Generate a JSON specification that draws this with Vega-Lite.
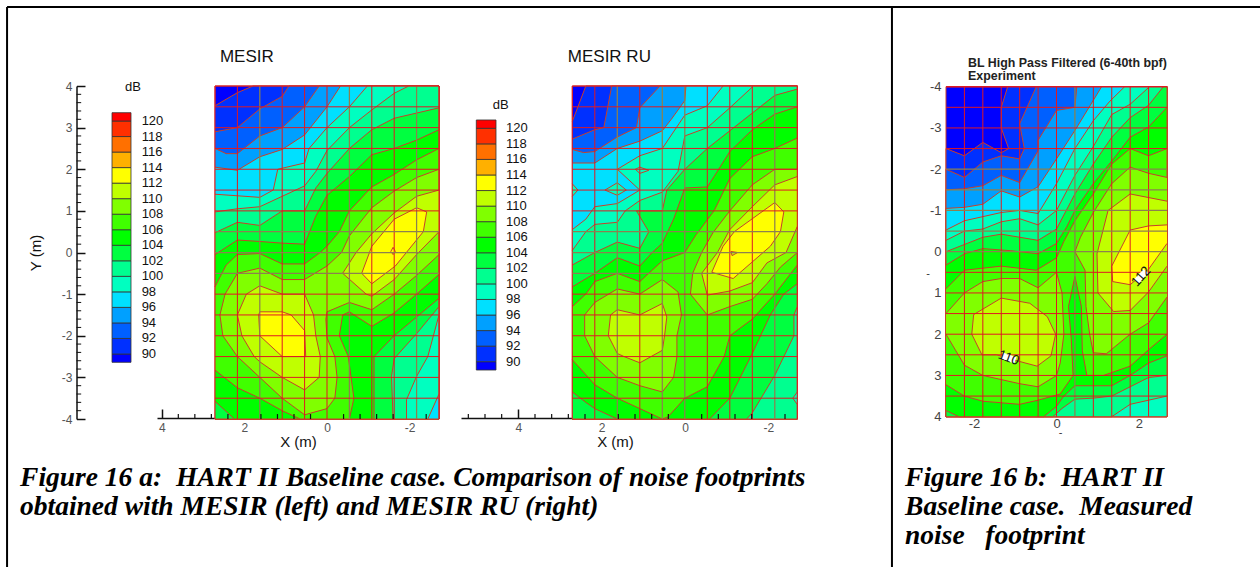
{"$schema":"https://vega.github.io/schema/vega-lite/v6.json","width":1260,"height":567,"padding":0,"autosize":{"type":"fit","contains":"padding"},"background":"white","config":{"view":{"stroke":null},"text":{"font":"Liberation Sans"},"axis":{"labelFont":"Liberation Sans","titleFont":"Liberation Sans","grid":false}},
"datasets":{
"a":[
{"p":"b","l":"base","i":0,"j":0},{"p":"b","l":"base","i":10,"j":0},{"p":"b","l":"base","i":10,"j":16},{"p":"b","l":"base","i":0,"j":16},{"p":"b","l":"base","i":0,"j":0},
{"p":"90","l":"90","i":0,"j":0.95},{"p":"90","l":"90","i":1,"j":0.32},{"p":"90","l":"90","i":1.7,"j":0},{"p":"90","l":"90","i":10,"j":0},{"p":"90","l":"90","i":10,"j":16},{"p":"90","l":"90","i":0,"j":16},
{"p":"92","l":"92","i":0,"j":2.2},{"p":"92","l":"92","i":1,"j":2},{"p":"92","l":"92","i":2,"j":1.1},{"p":"92","l":"92","i":3,"j":0.5},{"p":"92","l":"92","i":3.3,"j":0},{"p":"92","l":"92","i":10,"j":0},{"p":"92","l":"92","i":10,"j":16},{"p":"92","l":"92","i":0,"j":16},
{"p":"94","l":"94","i":0,"j":3},{"p":"94","l":"94","i":0.5,"j":3.25},{"p":"94","l":"94","i":1,"j":3.25},{"p":"94","l":"94","i":2,"j":2.4},{"p":"94","l":"94","i":3,"j":2},{"p":"94","l":"94","i":4,"j":1},{"p":"94","l":"94","i":4.65,"j":0},{"p":"94","l":"94","i":10,"j":0},{"p":"94","l":"94","i":10,"j":16},{"p":"94","l":"94","i":0,"j":16},
{"p":"96","l":"96","i":0,"j":3.9},{"p":"96","l":"96","i":1,"j":4.05},{"p":"96","l":"96","i":2,"j":3.4},{"p":"96","l":"96","i":3,"j":3.05},{"p":"96","l":"96","i":4,"j":2.35},{"p":"96","l":"96","i":5,"j":1},{"p":"96","l":"96","i":5.6,"j":0},{"p":"96","l":"96","i":10,"j":0},{"p":"96","l":"96","i":10,"j":16},{"p":"96","l":"96","i":0,"j":16},
{"p":"98","l":"98","i":0,"j":5.2},{"p":"98","l":"98","i":2,"j":5.35},{"p":"98","l":"98","i":2.6,"j":5},{"p":"98","l":"98","i":2.8,"j":4},{"p":"98","l":"98","i":4,"j":3.7},{"p":"98","l":"98","i":4.2,"j":3},{"p":"98","l":"98","i":5,"j":2},{"p":"98","l":"98","i":6,"j":1},{"p":"98","l":"98","i":6.8,"j":0},{"p":"98","l":"98","i":10,"j":0},{"p":"98","l":"98","i":10,"j":14.8},{"p":"98","l":"98","i":9.5,"j":16},{"p":"98","l":"98","i":0,"j":16},
{"p":"100","l":"100","i":0,"j":6.05},{"p":"100","l":"100","i":1,"j":5.9},{"p":"100","l":"100","i":2,"j":5.8},{"p":"100","l":"100","i":3,"j":5.3},{"p":"100","l":"100","i":4,"j":4.8},{"p":"100","l":"100","i":4.5,"j":4.1},{"p":"100","l":"100","i":5,"j":3.1},{"p":"100","l":"100","i":6,"j":2},{"p":"100","l":"100","i":7,"j":1.15},{"p":"100","l":"100","i":8,"j":0.35},{"p":"100","l":"100","i":8.65,"j":0},{"p":"100","l":"100","i":10,"j":0},{"p":"100","l":"100","i":10,"j":11},{"p":"100","l":"100","i":9.5,"j":13},{"p":"100","l":"100","i":9,"j":13.95},{"p":"100","l":"100","i":8.55,"j":15.07},{"p":"100","l":"100","i":8.55,"j":16},{"p":"100","l":"100","i":0,"j":16},
{"p":"102","l":"102","i":0,"j":7.05},{"p":"102","l":"102","i":1,"j":6.55},{"p":"102","l":"102","i":2,"j":6.7},{"p":"102","l":"102","i":3,"j":6},{"p":"102","l":"102","i":4,"j":6},{"p":"102","l":"102","i":4.5,"j":4.9},{"p":"102","l":"102","i":5,"j":4.2},{"p":"102","l":"102","i":6,"j":3},{"p":"102","l":"102","i":7,"j":2.1},{"p":"102","l":"102","i":8,"j":1.55},{"p":"102","l":"102","i":9,"j":1.3},{"p":"102","l":"102","i":10,"j":1.05},{"p":"102","l":"102","i":10,"j":10.6},{"p":"102","l":"102","i":9,"j":11.9},{"p":"102","l":"102","i":8,"j":13.1},{"p":"102","l":"102","i":7.88,"j":13.95},{"p":"102","l":"102","i":7.95,"j":16},{"p":"102","l":"102","i":0,"j":16},
{"p":"104","l":"104","i":0,"j":8.1},{"p":"104","l":"104","i":1,"j":7.4},{"p":"104","l":"104","i":2,"j":7.47},{"p":"104","l":"104","i":3,"j":7.55},{"p":"104","l":"104","i":4,"j":7.6},{"p":"104","l":"104","i":4.5,"j":6.25},{"p":"104","l":"104","i":5,"j":5.25},{"p":"104","l":"104","i":6,"j":4.35},{"p":"104","l":"104","i":7,"j":3.3},{"p":"104","l":"104","i":8,"j":3},{"p":"104","l":"104","i":9,"j":2.6},{"p":"104","l":"104","i":10,"j":2.1},{"p":"104","l":"104","i":10,"j":10.2},{"p":"104","l":"104","i":9,"j":11.1},{"p":"104","l":"104","i":8,"j":12},{"p":"104","l":"104","i":7.1,"j":13},{"p":"104","l":"104","i":7.1,"j":16},{"p":"104","l":"104","i":0.87,"j":16},{"p":"104","l":"104","i":0,"j":15.15},
{"p":"106","l":"106","i":0,"j":9.65},{"p":"106","l":"106","i":0.5,"j":8.6},{"p":"106","l":"106","i":1,"j":8.1},{"p":"106","l":"106","i":2,"j":8.05},{"p":"106","l":"106","i":3,"j":8.55},{"p":"106","l":"106","i":4,"j":8.55},{"p":"106","l":"106","i":4.7,"j":8},{"p":"106","l":"106","i":5,"j":7.7},{"p":"106","l":"106","i":5.55,"j":7},{"p":"106","l":"106","i":6,"j":6},{"p":"106","l":"106","i":7,"j":4.85},{"p":"106","l":"106","i":8,"j":4.25},{"p":"106","l":"106","i":9,"j":3.55},{"p":"106","l":"106","i":10,"j":3},{"p":"106","l":"106","i":10,"j":9.05},{"p":"106","l":"106","i":9,"j":10},{"p":"106","l":"106","i":8,"j":10.9},{"p":"106","l":"106","i":7,"j":11.55},{"p":"106","l":"106","i":6,"j":10.85},{"p":"106","l":"106","i":5.7,"j":11},{"p":"106","l":"106","i":5.55,"j":12},{"p":"106","l":"106","i":5.95,"j":13},{"p":"106","l":"106","i":6.2,"j":15},{"p":"106","l":"106","i":6,"j":16},{"p":"106","l":"106","i":3.8,"j":16},{"p":"106","l":"106","i":3,"j":15.6},{"p":"106","l":"106","i":2,"j":15},{"p":"106","l":"106","i":1,"j":14.5},{"p":"106","l":"106","i":0,"j":13.65},
{"p":"108","l":"108","i":1,"j":9},{"p":"108","l":"108","i":2,"j":8.75},{"p":"108","l":"108","i":3,"j":9.3},{"p":"108","l":"108","i":4,"j":9.3},{"p":"108","l":"108","i":5,"j":8.65},{"p":"108","l":"108","i":5.65,"j":8},{"p":"108","l":"108","i":6,"j":7.2},{"p":"108","l":"108","i":7,"j":5.85},{"p":"108","l":"108","i":8,"j":5.05},{"p":"108","l":"108","i":9,"j":4.4},{"p":"108","l":"108","i":10,"j":4},{"p":"108","l":"108","i":10,"j":8.1},{"p":"108","l":"108","i":9,"j":9.1},{"p":"108","l":"108","i":8,"j":10},{"p":"108","l":"108","i":7,"j":10.75},{"p":"108","l":"108","i":6,"j":10.4},{"p":"108","l":"108","i":5,"j":10.85},{"p":"108","l":"108","i":4.95,"j":11.2},{"p":"108","l":"108","i":5,"j":12.1},{"p":"108","l":"108","i":5.35,"j":13},{"p":"108","l":"108","i":5.45,"j":14},{"p":"108","l":"108","i":5.35,"j":15},{"p":"108","l":"108","i":5,"j":15.5},{"p":"108","l":"108","i":4,"j":15.8},{"p":"108","l":"108","i":3,"j":15},{"p":"108","l":"108","i":2,"j":14},{"p":"108","l":"108","i":1,"j":13},{"p":"108","l":"108","i":0.35,"j":12},{"p":"108","l":"108","i":0.22,"j":11},{"p":"108","l":"108","i":0.45,"j":10},{"p":"108","l":"108","i":1,"j":9},
{"p":"110L","l":"110","i":1,"j":11},{"p":"110L","l":"110","i":1.4,"j":10},{"p":"110L","l":"110","i":2,"j":9.6},{"p":"110L","l":"110","i":3,"j":10},{"p":"110L","l":"110","i":4,"j":10},{"p":"110L","l":"110","i":4.4,"j":11},{"p":"110L","l":"110","i":4.5,"j":12},{"p":"110L","l":"110","i":4.7,"j":13},{"p":"110L","l":"110","i":4.65,"j":14},{"p":"110L","l":"110","i":4,"j":14.6},{"p":"110L","l":"110","i":3,"j":14},{"p":"110L","l":"110","i":2,"j":13.25},{"p":"110L","l":"110","i":1.75,"j":13},{"p":"110L","l":"110","i":1.2,"j":12},{"p":"110L","l":"110","i":1,"j":11},
{"p":"110R","l":"110","i":10,"j":7},{"p":"110R","l":"110","i":9,"j":8.1},{"p":"110R","l":"110","i":8,"j":9.3},{"p":"110R","l":"110","i":7,"j":10.1},{"p":"110R","l":"110","i":6.75,"j":10},{"p":"110R","l":"110","i":5.7,"j":9},{"p":"110R","l":"110","i":6.3,"j":8},{"p":"110R","l":"110","i":7,"j":7.1},{"p":"110R","l":"110","i":8,"j":6.1},{"p":"110R","l":"110","i":9,"j":5.3},{"p":"110R","l":"110","i":10,"j":5},
{"p":"112L","l":"112","i":1.95,"j":11},{"p":"112L","l":"112","i":2,"j":10.85},{"p":"112L","l":"112","i":3,"j":10.85},{"p":"112L","l":"112","i":3.4,"j":11},{"p":"112L","l":"112","i":4,"j":11.75},{"p":"112L","l":"112","i":4.05,"j":13},{"p":"112L","l":"112","i":3.25,"j":13},{"p":"112L","l":"112","i":3,"j":13},{"p":"112L","l":"112","i":2,"j":12},{"p":"112L","l":"112","i":1.95,"j":11},
{"p":"112R","l":"112","i":9,"j":5.85},{"p":"112R","l":"112","i":9.45,"j":6.05},{"p":"112R","l":"112","i":9.3,"j":7},{"p":"112R","l":"112","i":8.05,"j":8.65},{"p":"112R","l":"112","i":7,"j":9.5},{"p":"112R","l":"112","i":6.55,"j":9},{"p":"112R","l":"112","i":7,"j":7.7},{"p":"112R","l":"112","i":8,"j":6.4},{"p":"112R","l":"112","i":9,"j":5.85},
{"p":"spot","l":"112","i":7.85,"j":7.95},{"p":"spot","l":"112","i":7.95,"j":7.75},{"p":"spot","l":"112","i":8.05,"j":7.95},{"p":"spot","l":"112","i":7.95,"j":8.1},{"p":"spot","l":"112","i":7.85,"j":7.95}
],
"b":[
{"p":"b","l":"base","i":0,"j":0},{"p":"b","l":"base","i":10,"j":0},{"p":"b","l":"base","i":10,"j":16},{"p":"b","l":"base","i":0,"j":16},{"p":"b","l":"base","i":0,"j":0},
{"p":"90","l":"90","i":0,"j":1.7},{"p":"90","l":"90","i":0.25,"j":1},{"p":"90","l":"90","i":0.6,"j":0},{"p":"90","l":"90","i":10,"j":0},{"p":"90","l":"90","i":10,"j":16},{"p":"90","l":"90","i":0,"j":16},
{"p":"92","l":"92","i":0,"j":2.55},{"p":"92","l":"92","i":1,"j":2.1},{"p":"92","l":"92","i":1.4,"j":2},{"p":"92","l":"92","i":1.55,"j":1.15},{"p":"92","l":"92","i":1.75,"j":0},{"p":"92","l":"92","i":10,"j":0},{"p":"92","l":"92","i":10,"j":16},{"p":"92","l":"92","i":0,"j":16},
{"p":"94","l":"94","i":0,"j":3.05},{"p":"94","l":"94","i":0.5,"j":3.2},{"p":"94","l":"94","i":1,"j":3.15},{"p":"94","l":"94","i":2,"j":2.45},{"p":"94","l":"94","i":2.85,"j":2},{"p":"94","l":"94","i":3,"j":1.05},{"p":"94","l":"94","i":3.9,"j":0},{"p":"94","l":"94","i":10,"j":0},{"p":"94","l":"94","i":10,"j":16},{"p":"94","l":"94","i":0,"j":16},
{"p":"96","l":"96","i":0,"j":3.7},{"p":"96","l":"96","i":1,"j":3.7},{"p":"96","l":"96","i":2,"j":3},{"p":"96","l":"96","i":3,"j":2.65},{"p":"96","l":"96","i":4,"j":2.15},{"p":"96","l":"96","i":4.4,"j":1.6},{"p":"96","l":"96","i":5,"j":0.7},{"p":"96","l":"96","i":5.05,"j":0},{"p":"96","l":"96","i":10,"j":0},{"p":"96","l":"96","i":10,"j":16},{"p":"96","l":"96","i":0,"j":16},
{"p":"98","l":"98","i":0,"j":6.9},{"p":"98","l":"98","i":0.6,"j":6.4},{"p":"98","l":"98","i":1,"j":5.8},{"p":"98","l":"98","i":2,"j":5.65},{"p":"98","l":"98","i":3,"j":5},{"p":"98","l":"98","i":2,"j":4},{"p":"98","l":"98","i":3,"j":3.35},{"p":"98","l":"98","i":4,"j":3},{"p":"98","l":"98","i":4.75,"j":1.8},{"p":"98","l":"98","i":5,"j":1.4},{"p":"98","l":"98","i":6,"j":0.95},{"p":"98","l":"98","i":6.7,"j":0},{"p":"98","l":"98","i":10,"j":0},{"p":"98","l":"98","i":10,"j":16},{"p":"98","l":"98","i":0,"j":16},
{"p":"i1","l":"98","i":3,"j":3.9},{"p":"i1","l":"98","i":3.4,"j":4.05},{"p":"i1","l":"98","i":3,"j":4.2},{"p":"i1","l":"98","i":2.8,"j":4},{"p":"i1","l":"98","i":3,"j":3.9},
{"p":"i2","l":"98","i":1.45,"j":5},{"p":"i2","l":"98","i":2,"j":4.65},{"p":"i2","l":"98","i":2.4,"j":5},{"p":"i2","l":"98","i":2,"j":5.25},{"p":"i2","l":"98","i":1.45,"j":5},
{"p":"i3","l":"98","i":0,"j":4.7},{"p":"i3","l":"98","i":0.25,"j":5},{"p":"i3","l":"98","i":0,"j":5.3},
{"p":"100","l":"100","i":0,"j":7.9},{"p":"100","l":"100","i":0.6,"j":7},{"p":"100","l":"100","i":1,"j":6.65},{"p":"100","l":"100","i":2,"j":6.55},{"p":"100","l":"100","i":2.35,"j":6},{"p":"100","l":"100","i":3,"j":5.5},{"p":"100","l":"100","i":4,"j":5.1},{"p":"100","l":"100","i":4.7,"j":4.1},{"p":"100","l":"100","i":5,"j":2.4},{"p":"100","l":"100","i":6,"j":2},{"p":"100","l":"100","i":7,"j":1.05},{"p":"100","l":"100","i":8,"j":0.05},{"p":"100","l":"100","i":8.05,"j":0},{"p":"100","l":"100","i":10,"j":0},{"p":"100","l":"100","i":10,"j":16},{"p":"100","l":"100","i":0,"j":16},
{"p":"102","l":"102","i":0,"j":8.6},{"p":"102","l":"102","i":1,"j":8},{"p":"102","l":"102","i":2,"j":7.5},{"p":"102","l":"102","i":3,"j":7.8},{"p":"102","l":"102","i":3.4,"j":7},{"p":"102","l":"102","i":2.85,"j":6},{"p":"102","l":"102","i":4,"j":6},{"p":"102","l":"102","i":4.2,"j":5},{"p":"102","l":"102","i":5,"j":4},{"p":"102","l":"102","i":6,"j":3},{"p":"102","l":"102","i":7,"j":2.15},{"p":"102","l":"102","i":8,"j":1.3},{"p":"102","l":"102","i":9,"j":0.45},{"p":"102","l":"102","i":10,"j":0.15},{"p":"102","l":"102","i":10,"j":10.6},{"p":"102","l":"102","i":9.85,"j":11},{"p":"102","l":"102","i":9.85,"j":12},{"p":"102","l":"102","i":9,"j":13.9},{"p":"102","l":"102","i":8,"j":15.7},{"p":"102","l":"102","i":7.75,"j":16},{"p":"102","l":"102","i":0,"j":16},
{"p":"i4","l":"98","i":10,"j":14.7},{"p":"i4","l":"98","i":9.8,"j":15},{"p":"i4","l":"98","i":10,"j":15.3},
{"p":"104","l":"104","i":0,"j":9.65},{"p":"104","l":"104","i":1,"j":9},{"p":"104","l":"104","i":2,"j":8.25},{"p":"104","l":"104","i":3,"j":8.65},{"p":"104","l":"104","i":3.55,"j":8},{"p":"104","l":"104","i":4,"j":7.55},{"p":"104","l":"104","i":4.5,"j":6.4},{"p":"104","l":"104","i":5,"j":4.9},{"p":"104","l":"104","i":6,"j":4.85},{"p":"104","l":"104","i":6.3,"j":4.35},{"p":"104","l":"104","i":7,"j":3.15},{"p":"104","l":"104","i":8,"j":2.1},{"p":"104","l":"104","i":9,"j":1.35},{"p":"104","l":"104","i":10,"j":1},{"p":"104","l":"104","i":10,"j":9.5},{"p":"104","l":"104","i":9.4,"j":10},{"p":"104","l":"104","i":8.8,"j":11},{"p":"104","l":"104","i":8,"j":12.85},{"p":"104","l":"104","i":7,"j":15},{"p":"104","l":"104","i":6.1,"j":16},{"p":"104","l":"104","i":2,"j":16},{"p":"104","l":"104","i":1,"j":15.5},{"p":"104","l":"104","i":0.6,"j":15.2},{"p":"104","l":"104","i":0,"j":14.7},
{"p":"106","l":"106","i":0,"j":10.6},{"p":"106","l":"106","i":0.6,"j":10},{"p":"106","l":"106","i":1,"j":9.4},{"p":"106","l":"106","i":2,"j":9},{"p":"106","l":"106","i":3,"j":9.4},{"p":"106","l":"106","i":4,"j":8.4},{"p":"106","l":"106","i":5,"j":8},{"p":"106","l":"106","i":5.5,"j":7.15},{"p":"106","l":"106","i":6.3,"j":6},{"p":"106","l":"106","i":7,"j":4.45},{"p":"106","l":"106","i":8,"j":3.4},{"p":"106","l":"106","i":9,"j":3},{"p":"106","l":"106","i":10,"j":2.5},{"p":"106","l":"106","i":10,"j":8.6},{"p":"106","l":"106","i":9,"j":10},{"p":"106","l":"106","i":8,"j":11.2},{"p":"106","l":"106","i":7,"j":12},{"p":"106","l":"106","i":6.75,"j":13},{"p":"106","l":"106","i":6,"j":14.45},{"p":"106","l":"106","i":5,"j":15},{"p":"106","l":"106","i":4.25,"j":15.9},{"p":"106","l":"106","i":4,"j":16},{"p":"106","l":"106","i":3,"j":15.5},{"p":"106","l":"106","i":2,"j":15},{"p":"106","l":"106","i":1,"j":14.35},{"p":"106","l":"106","i":0,"j":13.15},
{"p":"108L","l":"108","i":0.55,"j":11},{"p":"108L","l":"108","i":1,"j":10.4},{"p":"108L","l":"108","i":2,"j":9.75},{"p":"108L","l":"108","i":3,"j":10},{"p":"108L","l":"108","i":4,"j":9.3},{"p":"108L","l":"108","i":4.7,"j":9.9},{"p":"108L","l":"108","i":4.85,"j":11},{"p":"108L","l":"108","i":4.65,"j":12},{"p":"108L","l":"108","i":4.65,"j":13},{"p":"108L","l":"108","i":4.5,"j":14},{"p":"108L","l":"108","i":4,"j":14.7},{"p":"108L","l":"108","i":3,"j":14.4},{"p":"108L","l":"108","i":2,"j":14},{"p":"108L","l":"108","i":1,"j":13},{"p":"108L","l":"108","i":0.55,"j":12},{"p":"108L","l":"108","i":0.55,"j":11},
{"p":"108R","l":"108","i":10,"j":4},{"p":"108R","l":"108","i":9,"j":4},{"p":"108R","l":"108","i":8,"j":4.75},{"p":"108R","l":"108","i":7,"j":6},{"p":"108R","l":"108","i":6.25,"j":7.05},{"p":"108R","l":"108","i":5.75,"j":8},{"p":"108R","l":"108","i":5.35,"j":9},{"p":"108R","l":"108","i":5.25,"j":10},{"p":"108R","l":"108","i":6,"j":11},{"p":"108R","l":"108","i":7,"j":10.6},{"p":"108R","l":"108","i":8,"j":10.25},{"p":"108R","l":"108","i":8.65,"j":9.5},{"p":"108R","l":"108","i":9.25,"j":8.7},{"p":"108R","l":"108","i":10,"j":8},
{"p":"110L","l":"110","i":1.7,"j":11},{"p":"110L","l":"110","i":2,"j":10.75},{"p":"110L","l":"110","i":3,"j":11},{"p":"110L","l":"110","i":4,"j":10.45},{"p":"110L","l":"110","i":4.2,"j":11.1},{"p":"110L","l":"110","i":4.1,"j":12},{"p":"110L","l":"110","i":4,"j":12.7},{"p":"110L","l":"110","i":3,"j":13.3},{"p":"110L","l":"110","i":2.3,"j":13},{"p":"110L","l":"110","i":2,"j":12.85},{"p":"110L","l":"110","i":1.6,"j":12},{"p":"110L","l":"110","i":1.7,"j":11},
{"p":"110R","l":"110","i":10,"j":4.35},{"p":"110R","l":"110","i":9,"j":4.75},{"p":"110R","l":"110","i":8,"j":5.8},{"p":"110R","l":"110","i":7,"j":6.9},{"p":"110R","l":"110","i":6.45,"j":8},{"p":"110R","l":"110","i":5.75,"j":9},{"p":"110R","l":"110","i":6,"j":10.05},{"p":"110R","l":"110","i":7,"j":9.85},{"p":"110R","l":"110","i":8,"j":9.45},{"p":"110R","l":"110","i":8.65,"j":8.5},{"p":"110R","l":"110","i":9.5,"j":8},{"p":"110R","l":"110","i":10,"j":6.75},
{"p":"112","l":"112","i":9,"j":5.6},{"p":"112","l":"112","i":9.4,"j":6.05},{"p":"112","l":"112","i":9.25,"j":7},{"p":"112","l":"112","i":8.8,"j":7.7},{"p":"112","l":"112","i":7.15,"j":9.25},{"p":"112","l":"112","i":6.2,"j":8.95},{"p":"112","l":"112","i":6.7,"j":7.7},{"p":"112","l":"112","i":7.2,"j":7},{"p":"112","l":"112","i":9,"j":5.6},
{"p":"spot","l":"110","i":7.05,"j":7.95},{"p":"spot","l":"110","i":7.35,"j":8},{"p":"spot","l":"110","i":7.1,"j":8.15},{"p":"spot","l":"110","i":7.05,"j":7.95}
],
"c":[
{"p":"b","l":"base","i":0,"j":0},{"p":"b","l":"base","i":12,"j":0},{"p":"b","l":"base","i":12,"j":16},{"p":"b","l":"base","i":0,"j":16},{"p":"b","l":"base","i":0,"j":0},
{"p":"90","l":"90","i":3.35,"j":0},{"p":"90","l":"90","i":3,"j":1},{"p":"90","l":"90","i":3,"j":2},{"p":"90","l":"90","i":3.4,"j":3},{"p":"90","l":"90","i":3,"j":3.2},{"p":"90","l":"90","i":2,"j":2.7},{"p":"90","l":"90","i":1,"j":3.35},{"p":"90","l":"90","i":0,"j":3},{"p":"90","l":"90","i":0,"j":16},{"p":"90","l":"90","i":12,"j":16},{"p":"90","l":"90","i":12,"j":0},
{"p":"92","l":"92","i":4.9,"j":0},{"p":"92","l":"92","i":4,"j":1.8},{"p":"92","l":"92","i":4.25,"j":3},{"p":"92","l":"92","i":4,"j":3.5},{"p":"92","l":"92","i":3,"j":3.35},{"p":"92","l":"92","i":2,"j":3.65},{"p":"92","l":"92","i":1,"j":4.4},{"p":"92","l":"92","i":0,"j":4},{"p":"92","l":"92","i":0,"j":16},{"p":"92","l":"92","i":12,"j":16},{"p":"92","l":"92","i":12,"j":0},
{"p":"94","l":"94","i":7.1,"j":0},{"p":"94","l":"94","i":7,"j":1},{"p":"94","l":"94","i":6,"j":1.15},{"p":"94","l":"94","i":5,"j":2.6},{"p":"94","l":"94","i":5,"j":3.1},{"p":"94","l":"94","i":4,"j":4.65},{"p":"94","l":"94","i":3,"j":4.3},{"p":"94","l":"94","i":2,"j":4.8},{"p":"94","l":"94","i":1,"j":4.95},{"p":"94","l":"94","i":0,"j":5},{"p":"94","l":"94","i":0,"j":16},{"p":"94","l":"94","i":12,"j":16},{"p":"94","l":"94","i":12,"j":0},
{"p":"96","l":"96","i":8.45,"j":0},{"p":"96","l":"96","i":7.05,"j":2.05},{"p":"96","l":"96","i":6,"j":3.5},{"p":"96","l":"96","i":5,"j":4.85},{"p":"96","l":"96","i":4,"j":5.35},{"p":"96","l":"96","i":3,"j":5.05},{"p":"96","l":"96","i":2,"j":5.7},{"p":"96","l":"96","i":1,"j":5.85},{"p":"96","l":"96","i":0,"j":5.9},{"p":"96","l":"96","i":0,"j":16},{"p":"96","l":"96","i":12,"j":16},{"p":"96","l":"96","i":12,"j":0},
{"p":"98","l":"98","i":9.7,"j":0},{"p":"98","l":"98","i":8.9,"j":0.7},{"p":"98","l":"98","i":8,"j":1.65},{"p":"98","l":"98","i":7,"j":3},{"p":"98","l":"98","i":6,"j":4.7},{"p":"98","l":"98","i":5,"j":6.15},{"p":"98","l":"98","i":4,"j":6},{"p":"98","l":"98","i":3,"j":6.1},{"p":"98","l":"98","i":2,"j":6.3},{"p":"98","l":"98","i":1,"j":6.5},{"p":"98","l":"98","i":0,"j":6.95},{"p":"98","l":"98","i":0,"j":16},{"p":"98","l":"98","i":12,"j":16},{"p":"98","l":"98","i":12,"j":0},
{"p":"100","l":"100","i":11.05,"j":0},{"p":"100","l":"100","i":10,"j":0.85},{"p":"100","l":"100","i":9,"j":1.35},{"p":"100","l":"100","i":8,"j":2.9},{"p":"100","l":"100","i":7,"j":4.3},{"p":"100","l":"100","i":6,"j":6},{"p":"100","l":"100","i":5,"j":6.7},{"p":"100","l":"100","i":4,"j":6.4},{"p":"100","l":"100","i":3,"j":6.55},{"p":"100","l":"100","i":2,"j":6.9},{"p":"100","l":"100","i":1,"j":7},{"p":"100","l":"100","i":0,"j":7.45},{"p":"100","l":"100","i":0,"j":16},{"p":"100","l":"100","i":9,"j":16},{"p":"100","l":"100","i":10,"j":15.4},{"p":"100","l":"100","i":11,"j":15.2},{"p":"100","l":"100","i":12,"j":15},{"p":"100","l":"100","i":12,"j":0},
{"p":"102","l":"102","i":11.8,"j":0},{"p":"102","l":"102","i":11,"j":0.9},{"p":"102","l":"102","i":10,"j":1.5},{"p":"102","l":"102","i":9,"j":2.45},{"p":"102","l":"102","i":8,"j":3.75},{"p":"102","l":"102","i":7,"j":5.2},{"p":"102","l":"102","i":6,"j":6.9},{"p":"102","l":"102","i":5,"j":7.45},{"p":"102","l":"102","i":4,"j":7.3},{"p":"102","l":"102","i":3,"j":7.15},{"p":"102","l":"102","i":2,"j":7.3},{"p":"102","l":"102","i":1,"j":7.65},{"p":"102","l":"102","i":0,"j":8},{"p":"102","l":"102","i":0,"j":16},{"p":"102","l":"102","i":5.8,"j":16},{"p":"102","l":"102","i":6.3,"j":15.6},{"p":"102","l":"102","i":7,"j":15.15},{"p":"102","l":"102","i":8,"j":15.1},{"p":"102","l":"102","i":9,"j":15},{"p":"102","l":"102","i":10,"j":14.55},{"p":"102","l":"102","i":11,"j":14.1},{"p":"102","l":"102","i":12,"j":14},{"p":"102","l":"102","i":12,"j":0},
{"p":"104","l":"104","i":0,"j":8.65},{"p":"104","l":"104","i":1,"j":8.1},{"p":"104","l":"104","i":2,"j":7.85},{"p":"104","l":"104","i":3.5,"j":7.95},{"p":"104","l":"104","i":5,"j":8.1},{"p":"104","l":"104","i":6,"j":7.6},{"p":"104","l":"104","i":6.55,"j":6.8},{"p":"104","l":"104","i":7,"j":6},{"p":"104","l":"104","i":8,"j":4.7},{"p":"104","l":"104","i":9,"j":3.6},{"p":"104","l":"104","i":10,"j":2.45},{"p":"104","l":"104","i":11,"j":1.95},{"p":"104","l":"104","i":12,"j":1},{"p":"104","l":"104","i":12,"j":13.05},{"p":"104","l":"104","i":11,"j":13.4},{"p":"104","l":"104","i":10,"j":14},{"p":"104","l":"104","i":9,"j":14.5},{"p":"104","l":"104","i":7,"j":14.5},{"p":"104","l":"104","i":6.4,"j":15},{"p":"104","l":"104","i":6,"j":15.5},{"p":"104","l":"104","i":5.3,"j":16},{"p":"104","l":"104","i":0.7,"j":16},{"p":"104","l":"104","i":0,"j":15.7},
{"p":"106","l":"106","i":0,"j":9.8},{"p":"106","l":"106","i":1,"j":8.9},{"p":"106","l":"106","i":3,"j":8.7},{"p":"106","l":"106","i":4.9,"j":8.9},{"p":"106","l":"106","i":6,"j":8.3},{"p":"106","l":"106","i":6.4,"j":7.5},{"p":"106","l":"106","i":7,"j":6.5},{"p":"106","l":"106","i":8,"j":5.2},{"p":"106","l":"106","i":9,"j":3.75},{"p":"106","l":"106","i":10,"j":3},{"p":"106","l":"106","i":11,"j":3.35},{"p":"106","l":"106","i":12,"j":3},{"p":"106","l":"106","i":12,"j":12},{"p":"106","l":"106","i":11,"j":12.75},{"p":"106","l":"106","i":10,"j":13.55},{"p":"106","l":"106","i":8.55,"j":14},{"p":"106","l":"106","i":7.65,"j":14},{"p":"106","l":"106","i":7.4,"j":12.8},{"p":"106","l":"106","i":7.35,"j":10.65},{"p":"106","l":"106","i":7,"j":9.2},{"p":"106","l":"106","i":6.65,"j":10.65},{"p":"106","l":"106","i":6.8,"j":12.2},{"p":"106","l":"106","i":6.9,"j":14},{"p":"106","l":"106","i":6.2,"j":14.9},{"p":"106","l":"106","i":5,"j":15.2},{"p":"106","l":"106","i":4,"j":15.4},{"p":"106","l":"106","i":2,"j":15.25},{"p":"106","l":"106","i":1,"j":15},{"p":"106","l":"106","i":0,"j":14.45},
{"p":"108L","l":"108","i":0,"j":11},{"p":"108L","l":"108","i":1,"j":10},{"p":"108L","l":"108","i":2,"j":9.45},{"p":"108L","l":"108","i":3,"j":9.3},{"p":"108L","l":"108","i":4,"j":9.3},{"p":"108L","l":"108","i":5,"j":9.75},{"p":"108L","l":"108","i":6,"j":9},{"p":"108L","l":"108","i":6.3,"j":10},{"p":"108L","l":"108","i":6.4,"j":12},{"p":"108L","l":"108","i":6.2,"j":13.4},{"p":"108L","l":"108","i":6,"j":14},{"p":"108L","l":"108","i":5,"j":14.55},{"p":"108L","l":"108","i":4,"j":14.4},{"p":"108L","l":"108","i":2,"j":14},{"p":"108L","l":"108","i":1,"j":13.5},{"p":"108L","l":"108","i":0,"j":12},
{"p":"108R","l":"108","i":12,"j":4.4},{"p":"108R","l":"108","i":11,"j":4.2},{"p":"108R","l":"108","i":10,"j":3.9},{"p":"108R","l":"108","i":9,"j":4.7},{"p":"108R","l":"108","i":8,"j":6.1},{"p":"108R","l":"108","i":7.3,"j":7.3},{"p":"108R","l":"108","i":7,"j":8},{"p":"108R","l":"108","i":7.55,"j":8.9},{"p":"108R","l":"108","i":7.6,"j":10.65},{"p":"108R","l":"108","i":7.8,"j":12},{"p":"108R","l":"108","i":8,"j":12.9},{"p":"108R","l":"108","i":8.7,"j":12.95},{"p":"108R","l":"108","i":10,"j":12},{"p":"108R","l":"108","i":11,"j":11.45},{"p":"108R","l":"108","i":12,"j":10.2},
{"p":"110L","l":"110","i":3,"j":10.25},{"p":"110L","l":"110","i":4.55,"j":10.5},{"p":"110L","l":"110","i":5.5,"j":11.15},{"p":"110L","l":"110","i":5.95,"j":12},{"p":"110L","l":"110","i":5.7,"j":13.05},{"p":"110L","l":"110","i":4.95,"j":13.55},{"p":"110L","l":"110","i":3.9,"j":13.3},{"p":"110L","l":"110","i":2.75,"j":13},{"p":"110L","l":"110","i":1.95,"j":13},{"p":"110L","l":"110","i":1.4,"j":12},{"p":"110L","l":"110","i":1.5,"j":11.05},{"p":"110L","l":"110","i":3,"j":10.25},
{"p":"110R","l":"110","i":12,"j":5.55},{"p":"110R","l":"110","i":10,"j":5.2},{"p":"110R","l":"110","i":8.8,"j":6},{"p":"110R","l":"110","i":8.2,"j":8.1},{"p":"110R","l":"110","i":8.25,"j":10},{"p":"110R","l":"110","i":9.1,"j":10.9},{"p":"110R","l":"110","i":10,"j":10.85},{"p":"110R","l":"110","i":11,"j":9.95},{"p":"110R","l":"110","i":12,"j":8.7},
{"p":"112","l":"112","i":12,"j":6.7},{"p":"112","l":"112","i":11,"j":6.75},{"p":"112","l":"112","i":10,"j":6.95},{"p":"112","l":"112","i":9,"j":8.7},{"p":"112","l":"112","i":9.05,"j":9.45},{"p":"112","l":"112","i":10,"j":9.6},{"p":"112","l":"112","i":11,"j":8.85},{"p":"112","l":"112","i":12,"j":7.6}
],
"ga":[{"i":0,"i2":0,"j":0,"j2":16,"t":"r"},{"i":1,"i2":1,"j":0,"j2":16,"t":"r"},{"i":2,"i2":2,"j":0,"j2":16,"t":"d"},{"i":3,"i2":3,"j":0,"j2":16,"t":"r"},{"i":4,"i2":4,"j":0,"j2":16,"t":"r"},{"i":5,"i2":5,"j":0,"j2":16,"t":"r"},{"i":6,"i2":6,"j":0,"j2":16,"t":"d"},{"i":7,"i2":7,"j":0,"j2":16,"t":"r"},{"i":8,"i2":8,"j":0,"j2":16,"t":"r"},{"i":9,"i2":9,"j":0,"j2":16,"t":"d"},{"i":10,"i2":10,"j":0,"j2":16,"t":"r"},
{"i":0,"i2":10,"j":0,"j2":0,"t":"r"},{"i":0,"i2":10,"j":1,"j2":1,"t":"r"},{"i":0,"i2":10,"j":2,"j2":2,"t":"r"},{"i":0,"i2":10,"j":3,"j2":3,"t":"r"},{"i":0,"i2":10,"j":4,"j2":4,"t":"r"},{"i":0,"i2":10,"j":5,"j2":5,"t":"r"},{"i":0,"i2":10,"j":6,"j2":6,"t":"r"},{"i":0,"i2":10,"j":7,"j2":7,"t":"d"},{"i":0,"i2":10,"j":8,"j2":8,"t":"d"},{"i":0,"i2":10,"j":9,"j2":9,"t":"d"},{"i":0,"i2":10,"j":10,"j2":10,"t":"r"},{"i":0,"i2":10,"j":11,"j2":11,"t":"r"},{"i":0,"i2":10,"j":12,"j2":12,"t":"r"},{"i":0,"i2":10,"j":13,"j2":13,"t":"r"},{"i":0,"i2":10,"j":14,"j2":14,"t":"r"},{"i":0,"i2":10,"j":15,"j2":15,"t":"r"}],
"gb":[{"i":0,"i2":0,"j":0,"j2":16,"t":"r"},{"i":1,"i2":1,"j":0,"j2":16,"t":"r"},{"i":2,"i2":2,"j":0,"j2":16,"t":"d"},{"i":3,"i2":3,"j":0,"j2":16,"t":"r"},{"i":4,"i2":4,"j":0,"j2":16,"t":"d"},{"i":5,"i2":5,"j":0,"j2":16,"t":"d"},{"i":6,"i2":6,"j":0,"j2":16,"t":"r"},{"i":7,"i2":7,"j":0,"j2":16,"t":"r"},{"i":8,"i2":8,"j":0,"j2":16,"t":"r"},{"i":9,"i2":9,"j":0,"j2":16,"t":"d"},{"i":10,"i2":10,"j":0,"j2":16,"t":"r"},
{"i":0,"i2":10,"j":0,"j2":0,"t":"r"},{"i":0,"i2":10,"j":1,"j2":1,"t":"r"},{"i":0,"i2":10,"j":2,"j2":2,"t":"r"},{"i":0,"i2":10,"j":3,"j2":3,"t":"r"},{"i":0,"i2":10,"j":4,"j2":4,"t":"r"},{"i":0,"i2":10,"j":5,"j2":5,"t":"r"},{"i":0,"i2":10,"j":6,"j2":6,"t":"r"},{"i":0,"i2":10,"j":7,"j2":7,"t":"d"},{"i":0,"i2":10,"j":8,"j2":8,"t":"d"},{"i":0,"i2":10,"j":9,"j2":9,"t":"d"},{"i":0,"i2":10,"j":10,"j2":10,"t":"r"},{"i":0,"i2":10,"j":11,"j2":11,"t":"r"},{"i":0,"i2":10,"j":12,"j2":12,"t":"r"},{"i":0,"i2":10,"j":13,"j2":13,"t":"r"},{"i":0,"i2":10,"j":14,"j2":14,"t":"r"},{"i":0,"i2":10,"j":15,"j2":15,"t":"r"}],
"gc":[{"i":1,"i2":1,"j":0,"j2":16,"t":"r"},{"i":2,"i2":2,"j":0,"j2":16,"t":"r"},{"i":3,"i2":3,"j":0,"j2":16,"t":"r"},{"i":4,"i2":4,"j":0,"j2":16,"t":"r"},{"i":5,"i2":5,"j":0,"j2":16,"t":"r"},{"i":6,"i2":6,"j":0,"j2":16,"t":"r"},{"i":7,"i2":7,"j":0,"j2":16,"t":"d"},{"i":8,"i2":8,"j":0,"j2":16,"t":"r"},{"i":9,"i2":9,"j":0,"j2":16,"t":"r"},{"i":10,"i2":10,"j":0,"j2":16,"t":"r"},{"i":11,"i2":11,"j":0,"j2":16,"t":"r"},
{"i":0,"i2":12,"j":0,"j2":0,"t":"b"},{"i":0,"i2":12,"j":1,"j2":1,"t":"r"},{"i":0,"i2":12,"j":2,"j2":2,"t":"r"},{"i":0,"i2":12,"j":3,"j2":3,"t":"r"},{"i":0,"i2":12,"j":4,"j2":4,"t":"d"},{"i":0,"i2":12,"j":5,"j2":5,"t":"d"},{"i":0,"i2":12,"j":6,"j2":6,"t":"d"},{"i":0,"i2":12,"j":7,"j2":7,"t":"d"},{"i":0,"i2":12,"j":8,"j2":8,"t":"d"},{"i":0,"i2":12,"j":9,"j2":9,"t":"r"},{"i":0,"i2":12,"j":10,"j2":10,"t":"r"},{"i":0,"i2":12,"j":11,"j2":11,"t":"r"},{"i":0,"i2":12,"j":12,"j2":12,"t":"r"},{"i":0,"i2":12,"j":13,"j2":13,"t":"r"},{"i":0,"i2":12,"j":14,"j2":14,"t":"r"},{"i":0,"i2":12,"j":15,"j2":15,"t":"r"}],
"leg":[{"l":"base","lo":88.93,"hi":90},{"l":"90","lo":90,"hi":92},{"l":"92","lo":92,"hi":94},{"l":"94","lo":94,"hi":96},{"l":"96","lo":96,"hi":98},{"l":"98","lo":98,"hi":100},{"l":"100","lo":100,"hi":102},{"l":"102","lo":102,"hi":104},{"l":"104","lo":104,"hi":106},{"l":"106","lo":106,"hi":108},{"l":"108","lo":108,"hi":110},{"l":"110","lo":110,"hi":112},{"l":"112","lo":112,"hi":114},{"l":"114","lo":114,"hi":116},{"l":"116","lo":116,"hi":118},{"l":"118","lo":118,"hi":120},{"l":"120","lo":120,"hi":121.07}],
"legt":[{"v":90},{"v":92},{"v":94},{"v":96},{"v":98},{"v":100},{"v":102},{"v":104},{"v":106},{"v":108},{"v":110},{"v":112},{"v":114},{"v":116},{"v":118},{"v":120}],
"xm":[{"m":5.2},{"m":4.8},{"m":4.4},{"m":3.6},{"m":3.2},{"m":2.8},{"m":2.4},{"m":1.6},{"m":1.2},{"m":0.8},{"m":0.4},{"m":-0.4},{"m":-0.8},{"m":-1.2},{"m":-1.6},{"m":-2.4}],
"ym":[{"m":3.8},{"m":3.6},{"m":3.4},{"m":3.2},{"m":2.8},{"m":2.6},{"m":2.4},{"m":2.2},{"m":1.8},{"m":1.6},{"m":1.4},{"m":1.2},{"m":0.8},{"m":0.6},{"m":0.4},{"m":0.2},{"m":-0.2},{"m":-0.4},{"m":-0.6},{"m":-0.8},{"m":-1.2},{"m":-1.4},{"m":-1.6},{"m":-1.8},{"m":-2.2},{"m":-2.4},{"m":-2.6},{"m":-2.8},{"m":-3.2},{"m":-3.4},{"m":-3.6},{"m":-3.8}]
},
"layer":[
{"data":{"values":[{"x":0.0056,"x2":0.0056,"y":0.0123,"y2":1},{"x":0.0056,"x2":1,"y":0.0123,"y2":0.0123},{"x":0.7079,"x2":0.7079,"y":0.0123,"y2":1}]},"mark":{"type":"rule","stroke":"#000","strokeWidth":2},"encoding":{"x":{"field":"x","type":"quantitative","scale":{"domain":[0,1],"range":[0,1260]},"axis":null},"x2":{"field":"x2"},"y":{"field":"y","type":"quantitative","scale":{"domain":[0,1],"range":[0,567]},"axis":null},"y2":{"field":"y2"}}},
{"data":{"values":[{"t":"Figure 16 a:\u00a0\u00a0HART II Baseline case. Comparison of noise footprints","x":0.0159,"y":0.858},{"t":"obtained with MESIR (left) and MESIR RU (right)","x":0.0159,"y":0.909},{"t":"Figure 16 b:\u00a0\u00a0HART II","x":0.7183,"y":0.858},{"t":"Baseline case.\u00a0\u00a0Measured","x":0.7183,"y":0.909},{"t":"noise\u00a0\u00a0\u00a0footprint","x":0.7183,"y":0.96}]},"mark":{"type":"text","font":"Liberation Serif","fontStyle":"italic","fontWeight":"bold","fontSize":27.5,"align":"left","baseline":"alphabetic","color":"#000"},"encoding":{"text":{"field":"t"},"x":{"field":"x","type":"quantitative","scale":{"domain":[0,1],"range":[0,1260]},"axis":null},"y":{"field":"y","type":"quantitative","scale":{"domain":[0,1],"range":[0,567]},"axis":null}}},

{"data":{"name":"a"},"mark":{"type":"line","stroke":"#c8402a","strokeWidth":1,"clip":true},"encoding":{"x":{"field":"i","type":"quantitative","scale":{"domain":[0,10],"range":[215,439]},"axis":null},"y":{"field":"j","type":"quantitative","scale":{"domain":[0,16],"range":[86,419]},"axis":null},"detail":{"field":"p"},"order":{"value":null},"fill":{"field":"l","type":"nominal","scale":{"domain":["base","90","92","94","96","98","100","102","104","106","108","110","112","114","116","118","120"],"range":["#0000ff","#0030ff","#0060ff","#00a0ff","#00e0ff","#00ffc0","#00ff90","#00ff40","#00ff00","#40ff00","#80ff00","#c0ff00","#ffff00","#ffb000","#ff7000","#ff3000","#ff0000"]},"legend":null}}},
{"data":{"name":"ga"},"mark":{"type":"rule"},"encoding":{"x":{"field":"i","type":"quantitative","scale":{"domain":[0,10],"range":[215,439]},"axis":null},"x2":{"field":"i2"},"y":{"field":"j","type":"quantitative","scale":{"domain":[0,16],"range":[86,419]},"axis":null},"y2":{"field":"j2"},"stroke":{"field":"t","type":"nominal","scale":{"domain":["r","d","b"],"range":["#e01822","#8c8050","#e01822"]},"legend":null},"strokeWidth":{"field":"t","type":"nominal","scale":{"domain":["r","d","b"],"range":[1,1.5,2.5]},"legend":null}}},
{"data":{"values":[{"t":"MESIR","i":0.22,"j":-1.4}]},"mark":{"type":"text","fontSize":17,"align":"left","color":"#111"},"encoding":{"text":{"field":"t"},"x":{"field":"i","type":"quantitative","scale":{"domain":[0,10],"range":[215,439]},"axis":null},"y":{"field":"j","type":"quantitative","scale":{"domain":[0,16],"range":[86,419]},"axis":null}}},
{"data":{"name":"xm"},"transform":[{"filter":"datum.m<4"}],"mark":{"type":"rule","stroke":"#111","strokeWidth":1.2},"encoding":{"x":{"field":"m","type":"quantitative","scale":{"domain":[4.116,-2.71],"range":[157,439]},"axis":{"orient":"bottom","offset":-148,"values":[4,2,0,-2],"title":"X (m)","tickSize":-9,"tickWidth":1.5,"labelPadding":13,"domainColor":"#111","domainWidth":1.5,"tickColor":"#111","labelColor":"#555","labelFontSize":12,"labelExpr":"''+datum.value","titleFontSize":15,"titleFontWeight":"normal","titleColor":"#111","titlePadding":1}},"y":{"datum":0,"type":"quantitative","scale":{"domain":[0,1],"range":[419,410]},"axis":null},"y2":{"datum":0.55}}},
{"data":{"name":"ym"},"mark":{"type":"rule","stroke":"#111"},"encoding":{"y":{"field":"m","type":"quantitative","scale":{"domain":[-4,4],"range":[419,86]},"axis":{"orient":"left","offset":-76.5,"values":[4,3,2,1,0,-1,-2,-3,-4],"title":"Y (m)","tickSize":-8.5,"tickWidth":1.5,"labelPadding":13,"labelColor":"#555","labelFontSize":12,"labelExpr":"''+datum.value","titleFontWeight":"normal","titleFontSize":15,"titleColor":"#111","titlePadding":18,"domainColor":"#111","domainWidth":1.5,"tickColor":"#111"}},"x":{"datum":0,"type":"quantitative","scale":{"domain":[0,1],"range":[76.5,85]},"axis":null},"x2":{"datum":0.55}}},
{"data":{"name":"leg"},"mark":{"type":"rect","stroke":"#333","strokeWidth":0.8},"encoding":{"x":{"datum":0,"type":"quantitative","scale":{"domain":[0,1],"range":[112,131]},"axis":null},"x2":{"datum":1},"y":{"field":"lo","type":"quantitative","scale":{"domain":[90,120],"range":[354,121]},"axis":null},"y2":{"field":"hi"},"fill":{"field":"l","type":"nominal","legend":null}}},
{"data":{"name":"legt"},"mark":{"type":"text","fontSize":13,"align":"left","color":"#111"},"encoding":{"text":{"field":"v"},"x":{"datum":1.56,"type":"quantitative","scale":{"domain":[0,1],"range":[112,131]},"axis":null},"y":{"field":"v","type":"quantitative","scale":{"domain":[90,120],"range":[354,121]},"axis":null}}},
{"data":{"values":[{"t":"dB","v":124.4}]},"mark":{"type":"text","fontSize":13,"align":"center","color":"#111"},"encoding":{"text":{"field":"t"},"x":{"datum":1.1,"type":"quantitative","scale":{"domain":[0,1],"range":[112,131]},"axis":null},"y":{"field":"v","type":"quantitative","scale":{"domain":[90,120],"range":[354,121]},"axis":null}}},

{"data":{"name":"b"},"mark":{"type":"line","stroke":"#c8402a","strokeWidth":1,"clip":true},"encoding":{"x":{"field":"i","type":"quantitative","scale":{"domain":[0,10],"range":[572.3,797.3]},"axis":null},"y":{"field":"j","type":"quantitative","scale":{"domain":[0,16],"range":[86,419]},"axis":null},"detail":{"field":"p"},"order":{"value":null},"fill":{"field":"l","type":"nominal","legend":null}}},
{"data":{"name":"gb"},"mark":{"type":"rule"},"encoding":{"x":{"field":"i","type":"quantitative","scale":{"domain":[0,10],"range":[572.3,797.3]},"axis":null},"x2":{"field":"i2"},"y":{"field":"j","type":"quantitative","scale":{"domain":[0,16],"range":[86,419]},"axis":null},"y2":{"field":"j2"},"stroke":{"field":"t","type":"nominal","legend":null},"strokeWidth":{"field":"t","type":"nominal","legend":null}}},
{"data":{"values":[{"t":"MESIR RU","i":-0.2,"j":-1.4}]},"mark":{"type":"text","fontSize":17,"align":"left","color":"#111"},"encoding":{"text":{"field":"t"},"x":{"field":"i","type":"quantitative","scale":{"domain":[0,10],"range":[572.3,797.3]},"axis":null},"y":{"field":"j","type":"quantitative","scale":{"domain":[0,16],"range":[86,419]},"axis":null}}},
{"data":{"name":"xm"},"mark":{"type":"rule","stroke":"#111","strokeWidth":1.2},"encoding":{"x":{"field":"m","type":"quantitative","scale":{"domain":[5.376,-2.695],"range":[461,797.3]},"axis":{"orient":"bottom","offset":-148,"values":[4,2,0,-2],"title":"X (m)","titleX":615,"tickSize":-9,"tickWidth":1.5,"labelPadding":13,"domainColor":"#111","domainWidth":1.5,"tickColor":"#111","labelColor":"#555","labelFontSize":12,"labelExpr":"''+datum.value","titleFontSize":15,"titleFontWeight":"normal","titleColor":"#111","titlePadding":1}},"y":{"datum":0,"type":"quantitative","scale":{"domain":[0,1],"range":[419,410]},"axis":null},"y2":{"datum":0.55}}},
{"data":{"name":"leg"},"mark":{"type":"rect","stroke":"#333","strokeWidth":0.8},"encoding":{"x":{"datum":0,"type":"quantitative","scale":{"domain":[0,1],"range":[476.3,496]},"axis":null},"x2":{"datum":1},"y":{"field":"lo","type":"quantitative","scale":{"domain":[90,120],"range":[361.7,128.3]},"axis":null},"y2":{"field":"hi"},"fill":{"field":"l","type":"nominal","legend":null}}},
{"data":{"name":"legt"},"mark":{"type":"text","fontSize":13,"align":"left","color":"#111"},"encoding":{"text":{"field":"v"},"x":{"datum":1.51,"type":"quantitative","scale":{"domain":[0,1],"range":[476.3,496]},"axis":null},"y":{"field":"v","type":"quantitative","scale":{"domain":[90,120],"range":[361.7,128.3]},"axis":null}}},
{"data":{"values":[{"t":"dB","v":123}]},"mark":{"type":"text","fontSize":13,"align":"center","color":"#111"},"encoding":{"text":{"field":"t"},"x":{"datum":1.24,"type":"quantitative","scale":{"domain":[0,1],"range":[476.3,496]},"axis":null},"y":{"field":"v","type":"quantitative","scale":{"domain":[90,120],"range":[361.7,128.3]},"axis":null}}},

{"data":{"name":"c"},"mark":{"type":"line","stroke":"#c8402a","strokeWidth":1,"clip":true},"encoding":{"x":{"field":"i","type":"quantitative","scale":{"domain":[0,12],"range":[946,1167]},"axis":null},"y":{"field":"j","type":"quantitative","scale":{"domain":[0,16],"range":[86.7,416.7]},"axis":null},"detail":{"field":"p"},"order":{"value":null},"fill":{"field":"l","type":"nominal","legend":null}}},
{"data":{"name":"gc"},"mark":{"type":"rule"},"encoding":{"x":{"field":"i","type":"quantitative","scale":{"domain":[0,12],"range":[946,1167]},"axis":null},"x2":{"field":"i2"},"y":{"field":"j","type":"quantitative","scale":{"domain":[0,16],"range":[86.7,416.7]},"axis":null},"y2":{"field":"j2"},"stroke":{"field":"t","type":"nominal","legend":null},"strokeWidth":{"field":"t","type":"nominal","legend":null}}},
{"data":{"values":[{"i":3.4,"j":13.15,"a":20},{"i":10.6,"j":9.2,"a":312}]},"mark":{"type":"point","shape":"M -1.1 -0.5 H 1.1 V 0.5 H -1.1 Z","filled":true,"fill":"white","opacity":1,"size":170,"strokeWidth":0},"encoding":{"angle":{"field":"a","type":"quantitative","scale":null},"x":{"field":"i","type":"quantitative","scale":{"domain":[0,12],"range":[946,1167]},"axis":null},"y":{"field":"j","type":"quantitative","scale":{"domain":[0,16],"range":[86.7,416.7]},"axis":null}}},
{"data":{"values":[{"t":"110","i":3.4,"j":13.15,"a":20},{"t":"112","i":10.6,"j":9.2,"a":312}]},"mark":{"type":"text","fontSize":13.5,"color":"#111"},"encoding":{"text":{"field":"t"},"angle":{"field":"a","type":"quantitative","scale":null},"x":{"field":"i","type":"quantitative","scale":{"domain":[0,12],"range":[946,1167]},"axis":null},"y":{"field":"j","type":"quantitative","scale":{"domain":[0,16],"range":[86.7,416.7]},"axis":null}}},
{"data":{"values":[{"t":"BL High Pass Filtered (6-40th bpf)","i":1.2,"j":-1.15},{"t":"Experiment","i":1.2,"j":-0.52}]},"mark":{"type":"text","fontSize":12.4,"fontWeight":"bold","align":"left","color":"#222"},"encoding":{"text":{"field":"t"},"x":{"field":"i","type":"quantitative","scale":{"domain":[0,12],"range":[946,1167]},"axis":null},"y":{"field":"j","type":"quantitative","scale":{"domain":[0,16],"range":[86.7,416.7]},"axis":null}}},
{"data":{"values":[{"t":"-","m":0.1}]},"mark":{"type":"text","fontSize":11,"color":"#333"},"encoding":{"text":{"field":"t"},"x":{"field":"m","type":"quantitative","scale":{"domain":[-2.68,2.68],"range":[946,1167]},"axis":{"orient":"bottom","offset":-150.5,"values":[-2,0,2],"title":null,"domain":false,"ticks":false,"labelPadding":2,"labelColor":"#444","labelFontSize":13,"labelExpr":"''+datum.value"}},"y":{"datum":0,"type":"quantitative","scale":{"domain":[0,1],"range":[433,440]},"axis":null}}},
{"data":{"values":[{"t":"-","m":0.54}]},"mark":{"type":"text","fontSize":11,"color":"#333"},"encoding":{"text":{"field":"t"},"y":{"field":"m","type":"quantitative","scale":{"domain":[-4,4],"range":[86.7,416.7]},"axis":{"orient":"left","offset":-943,"values":[-4,-3,-2,-1,0,1,2,3,4],"title":null,"domain":false,"ticks":false,"labelPadding":2,"labelColor":"#444","labelFontSize":13,"labelExpr":"''+datum.value"}},"x":{"datum":0,"type":"quantitative","scale":{"domain":[0,1],"range":[928,935]},"axis":null}}}
],"resolve":{"scale":{"x":"independent","y":"independent"},"axis":{"x":"independent","y":"independent"}}}
